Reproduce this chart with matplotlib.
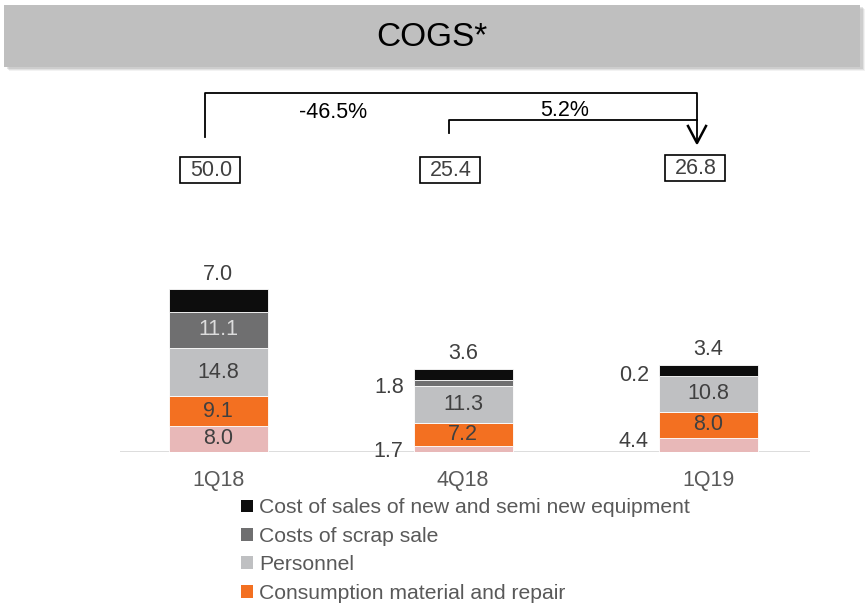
import matplotlib
matplotlib.use("Agg")
import matplotlib.pyplot as plt
from matplotlib.patches import Rectangle, Patch
from matplotlib.lines import Line2D

plt.rcParams['font.family'] = ['Liberation Sans', 'DejaVu Sans']

# ---- data ----
periods = ["1Q18", "4Q18", "1Q19"]
series_names = ["Other services", "Consumption material and repair", "Personnel",
                "Costs of scrap sale", "Cost of sales of new and semi new equipment"]
other = [8.0, 1.7, 4.4]
consumption = [9.1, 7.2, 8.0]
personnel = [14.8, 11.3, 10.8]
scrap = [11.1, 1.8, 0.2]
new_equipment = [7.0, 3.6, 3.4]
totals = [50.0, 25.4, 26.8]
changes = ["-46.5%", "5.2%"]

colors = ["#e8b8b8", "#f37021", "#bfc0c2", "#6f6f70", "#0d0d0d"]
label_colors = ["#404040", "#404040", "#404040", "#dcdcdc", "#404040"]

W, H = 865, 608
fig = plt.figure(figsize=(W / 100, H / 100), dpi=100)


def fx(x):
    return x / W


def fy(y):
    return 1 - y / H


# ---- title bar ----
for off, a in [(4, 0.10), (3, 0.15), (2, 0.2)]:
    fig.patches.append(Rectangle((fx(5 + off), fy(67 + off)), fx(856), 62 / H,
                                 transform=fig.transFigure, facecolor="#808080",
                                 alpha=a, edgecolor="none", zorder=0))
fig.patches.append(Rectangle((fx(4), fy(67)), fx(856), 62 / H, transform=fig.transFigure,
                             facecolor="#bfbfbf", edgecolor="none", zorder=1))
fig.text(fx(432), fy(37), "COGS*", ha="center", va="center", fontsize=24, color="#000000")

# ---- axes ----
px_per_unit = 3.26
ax_top, ax_bot = 200, 452
ax = fig.add_axes([fx(120), fy(ax_bot), fx(690), (ax_bot - ax_top) / H])
ax.set_xlim(-0.4, 2.416)
ax.set_ylim(0, (ax_bot - ax_top) / px_per_unit)
for s in ax.spines.values():
    s.set_visible(False)
ax.set_yticks([])
ax.set_xticks(range(len(periods)))
ax.set_xticklabels(periods, fontsize=15.5, color="#595959")
ax.tick_params(axis="x", length=0, pad=13)
ax.axhline(0, color="#d9d9d9", lw=2, zorder=1)

stack = [other, consumption, personnel, scrap, new_equipment]
bw = 0.404
bottoms = [0.0] * len(periods)
for k, vals in enumerate(stack):
    ax.bar(range(len(periods)), vals, bw, bottom=bottoms, color=colors[k],
           edgecolor="white", linewidth=0.6, zorder=2, label=series_names[k])
    bottoms = [b + v for b, v in zip(bottoms, vals)]

# value labels
# placement: 'in' inside, 'top' above bar, 'left' left of bar (dy in data units)
placement = {
    (0, 0): ("in", 0), (0, 1): ("in", 0), (0, 2): ("in", 0), (0, 3): ("in", 0), (0, 4): ("top", 0),
    (1, 0): ("left", -0.6), (1, 1): ("in", 0), (1, 2): ("in", 0), (1, 3): ("left", -1.2), (1, 4): ("top", 0),
    (2, 0): ("left", 0.9), (2, 1): ("in", 0), (2, 2): ("in", 0), (2, 3): ("left", 0.3), (2, 4): ("top", 0),
}
for i in range(len(periods)):
    base = 0.0
    for k, vals in enumerate(stack):
        v = vals[i]
        mode, dy = placement[(i, k)]
        txt = f"{v:.1f}"
        if mode == "in":
            ax.text(i, base + v / 2, txt, ha="center", va="center", fontsize=15.5,
                    color=label_colors[k], zorder=3)
        elif mode == "top":
            ax.text(i, base + v + 1.3, txt, ha="center", va="bottom", fontsize=15.5,
                    color="#404040", zorder=3)
        else:
            ax.text(i - bw / 2 - 0.04, base + v / 2 + dy, txt, ha="right", va="center",
                    fontsize=15.5, color="#404040", zorder=3)
        base += v

# ---- total boxes ----
box_centers = [(210, 170), (450, 170), (695, 168)]
for (cx, cy), t in zip(box_centers, totals):
    fig.patches.append(Rectangle((fx(cx - 30), fy(cy + 13)), 60 / W, 26 / H,
                                 transform=fig.transFigure, facecolor="white",
                                 edgecolor="black", lw=1.2, zorder=2))
    fig.text(fx(cx + 1), fy(cy + 1), f"{t:.1f}", ha="center", va="center",
             fontsize=15.5, color="#404040", zorder=3)

# ---- change brackets ----
lw = 1.3
fig.add_artist(Line2D([fx(205), fx(205), fx(697), fx(697)],
                      [fy(137), fy(93), fy(93), fy(142)], color="black", lw=lw))
fig.add_artist(Line2D([fx(449), fx(449), fx(697)],
                      [fy(133), fy(120), fy(120)], color="black", lw=lw))
fig.add_artist(Line2D([fx(688), fx(697), fx(706)],
                      [fy(126), fy(143), fy(126)], color="black", lw=1.8))
fig.text(fx(333), fy(112), changes[0], ha="center", va="center", fontsize=15.5, color="black")
fig.text(fx(565), fy(110), changes[1], ha="center", va="center", fontsize=15.5, color="black")

# ---- legend ----
handles = [Patch(facecolor=colors[k], edgecolor="none") for k in [4, 3, 2, 1]]
labels = [series_names[k] for k in [4, 3, 2, 1]]
fig.legend(handles, labels, loc="upper left", bbox_to_anchor=(fx(233), fy(490)),
           frameon=False, fontsize=15.2, labelcolor="#595959", handlelength=0.55,
           handleheight=0.55, handletextpad=0.3, labelspacing=0.445, borderaxespad=0)

fig.savefig("out.png", dpi=100)
